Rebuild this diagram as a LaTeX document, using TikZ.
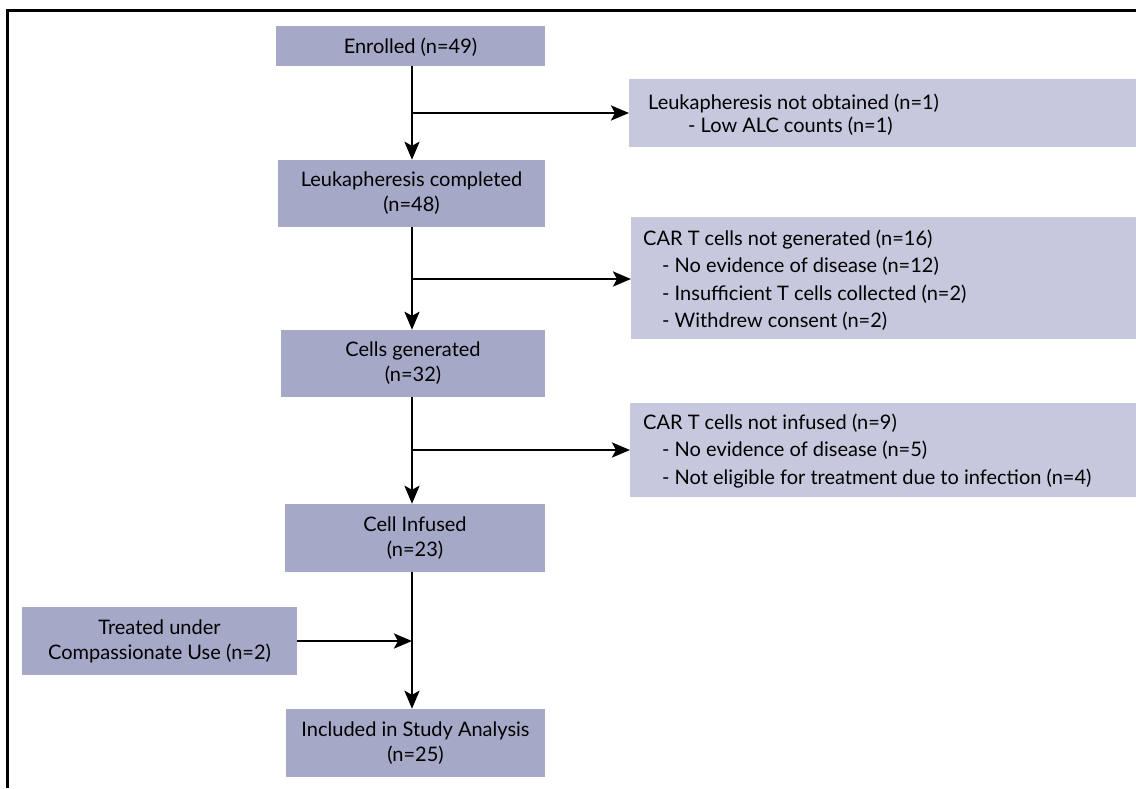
\documentclass[tikz,border=0pt]{standalone}
\usepackage{fontspec}
\setmainfont{Lato}
\usetikzlibrary{arrows.meta}
\definecolor{mainfill}{HTML}{A5A9C7}
\definecolor{sidefill}{HTML}{C6C8DD}
\tikzset{
  mainbox/.style={fill=mainfill, draw=none, inner sep=0pt, align=center, font=\fontsize{20}{25}\selectfont, execute at begin node={\rule{0pt}{18.5pt}}},
  sidebox/.style={fill=sidefill, draw=none, inner sep=0pt, anchor=north west},
  sidetext/.style={anchor=base west, inner sep=0pt, font=\fontsize{20}{23}\selectfont},
  conn/.style={line width=2.8pt, -{Stealth[length=18pt,width=15pt,inset=4pt]}},
  frame/.style={line width=3pt}
}
\begin{document}
\begin{tikzpicture}[x=1pt,y=-1pt]
\useasboundingbox (0,0) rectangle (1136,788);
% frame
\draw[frame] (7.5,788) -- (7.5,10.5) -- (1136,10.5);
% main boxes
\node[mainbox, minimum width=269pt, minimum height=40pt] (enr) at (410.5,46) {Enrolled (n=49)};
\node[mainbox, minimum width=267pt, minimum height=67pt] (leuk) at (411.5,193.5) {Leukapheresis completed\\(n=48)};
\node[mainbox, minimum width=264pt, minimum height=67pt] (gen) at (413,363.5) {Cells generated\\(n=32)};
\node[mainbox, minimum width=260pt, minimum height=68pt] (inf) at (415,538) {Cell Infused\\(n=23)};
\node[mainbox, minimum width=275pt, minimum height=68pt] (tcu) at (159.5,641) {Treated under\\Compassionate Use (n=2)};
\node[mainbox, minimum width=259pt, minimum height=68pt] (inc) at (415.5,743) {Included in Study Analysis\\(n=25)};
% side boxes
\node[sidebox, minimum width=507pt, minimum height=68pt] (nl) at (629,79) {};
\node[sidebox, minimum width=505pt, minimum height=122pt] (nog) at (631,217) {};
\node[sidebox, minimum width=506pt, minimum height=94pt] (noi) at (630,403) {};
\node[sidetext] (nl1) at (648,109) {Leukapheresis not obtained (n=1)};
\node[sidetext] (nl2) at (688,132) {- Low ALC counts (n=1)};
\node[sidetext] (nog1) at (643,245) {CAR T cells not generated (n=16)};
\node[sidetext] (nog2) at (662,272.5) {- No evidence of disease (n=12)};
\node[sidetext] (nog3) at (662,300) {- Insufficient T cells collected (n=2)};
\node[sidetext] (nog4) at (662,327.5) {- Withdrew consent (n=2)};
\node[sidetext] (noi1) at (643,429) {CAR T cells not infused (n=9)};
\node[sidetext] (noi2) at (662,456.5) {- No evidence of disease (n=5)};
\node[sidetext] (noi3) at (662,484) {- Not eligible for treatment due to infection (n=4)};
% branch points
\coordinate (b1) at (412,113);
\coordinate (b2) at (412,279);
\coordinate (b3) at (412,450);
\coordinate (b4) at (412,641);
% connectors
\draw[conn] (enr.south -| b1) -- (leuk.north -| b1);
\draw[conn] (b1) -- (nl.west |- b1);
\draw[conn] (leuk.south -| b2) -- (gen.north -| b2);
\draw[conn] (b2) -- (nog.west |- b2);
\draw[conn] (gen.south -| b3) -- (inf.north -| b3);
\draw[conn] (b3) -- (noi.west |- b3);
\draw[conn] (inf.south -| b4) -- (inc.north -| b4);
\draw[conn] (tcu.east) -- (b4);
\end{tikzpicture}
\end{document}
